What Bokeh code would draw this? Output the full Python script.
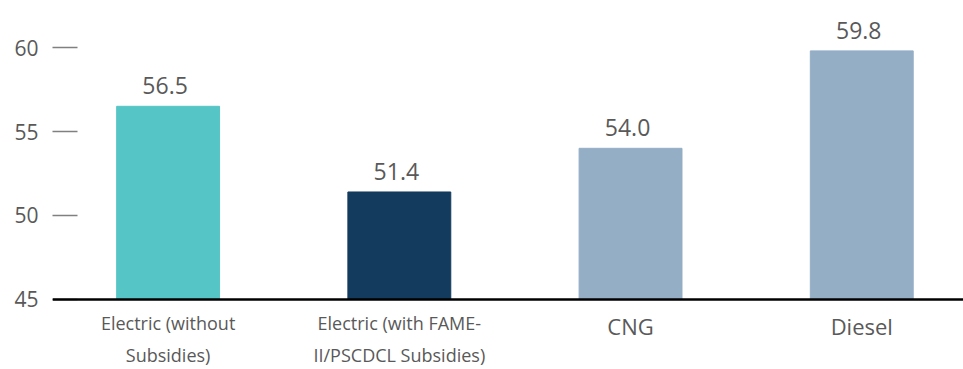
from bokeh.plotting import figure
from bokeh.models import ColumnDataSource, FixedTicker, Span
from bokeh.core.properties import value
from bokeh.embed import file_html
from bokeh.resources import INLINE

categories = ["Electric (without\nSubsidies)",
              "Electric (with FAME-\nII/PSCDCL Subsidies)",
              "CNG", "Diesel"]
values = [56.5, 51.4, 54.0, 59.8]
value_labels = ["56.5", "51.4", "54.0", "59.8"]
colors = ["#56C5C5", "#133B5E", "#94AEC6", "#94AEC6"]
cat_font_sizes = ["18px", "18px", "22px", "22px"]
y_ticks = [45, 50, 55, 60]
baseline = 45

xs = list(range(len(categories)))
src = ColumnDataSource(dict(x=xs, top=values, color=colors, vlab=value_labels,
                            cat=categories, cfs=cat_font_sizes,
                            base=[baseline] * len(xs)))

p = figure(width=963, height=369, output_backend="svg", toolbar_location=None,
           x_range=(-0.5, 3.44), y_range=(40.83, 62.8),
           x_axis_location=None, min_border_left=52, min_border_right=0,
           min_border_top=0, min_border_bottom=0)
p.outline_line_color = None
p.grid.visible = False
p.background_fill_color = "white"

p.vbar(x="x", top="top", bottom=baseline, width=0.445, color="color", source=src)

p.add_layout(Span(location=baseline, dimension="width", line_color="black", line_width=2.5))

p.text(x="x", y="top", text="vlab", source=src, text_align="center",
       text_baseline="bottom", y_offset=-12, x_offset=-3,
       text_font=value("Open Sans"), text_font_size="23px", text_color="#595959")

p.text(x="x", y="base", text="cat", source=src, text_align="center",
       text_baseline="top", y_offset=12, text_line_height=1.3,
       text_font=value("Open Sans"), text_font_size="cfs", text_color="#595959")

ax = p.yaxis[0]
ax.ticker = FixedTicker(ticks=y_ticks)
ax.axis_line_color = None
ax.major_tick_in = 25
ax.major_tick_out = 0
ax.minor_tick_line_color = None
ax.major_tick_line_color = "#808080"
ax.major_tick_line_width = 1.5
ax.major_label_standoff = 14
ax.major_label_text_font = "Open Sans"
ax.major_label_text_font_size = "21px"
ax.major_label_text_color = "#595959"

open("out.html", "w").write(file_html(p, INLINE))
